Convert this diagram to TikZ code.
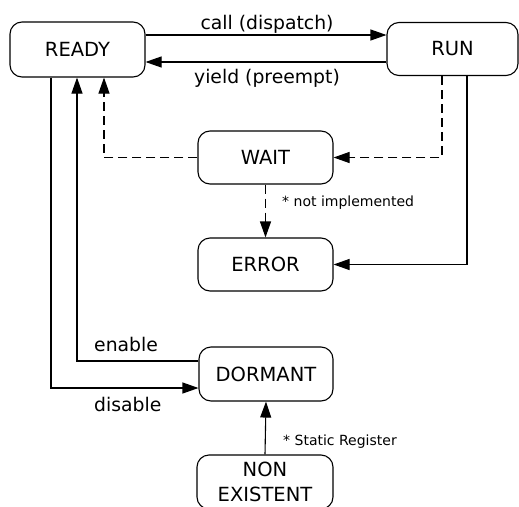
\documentclass[tikz,border=0pt]{standalone}
\usepackage{fontspec}
\setmainfont{DejaVu Sans}
\usetikzlibrary{arrows.meta,calc}

\tikzset{
  state/.style={draw, rounded corners=12pt, line width=1.1pt,
    font=\fontsize{19.5}{25}\selectfont, inner sep=0pt, align=center},
  link/.style={line width=1.1pt, -{Triangle[length=16pt,width=11pt]}},
  dashlink/.style={dash pattern=on 9pt off 5pt},
  biglabel/.style={font=\fontsize{18.8}{22}\selectfont, inner sep=0pt},
  notelabel/.style={font=\fontsize{14}{16}\selectfont, inner sep=0pt, anchor=base west},
}

\begin{document}
\begin{tikzpicture}[x=1pt, y=-1pt]
\useasboundingbox (0,0) rectangle (519,506);
\clip (0,0) rectangle (519,506);
\fill[white] (0,0) rectangle (519,506);

% states
\node[state, minimum width=135pt, minimum height=55pt] (ready) at (77.5,49.5) {READY};
\node[state, minimum width=131pt, minimum height=53pt] (run) at (452.5,49) {RUN};
\node[state, minimum width=135pt, minimum height=53pt] (wait) at (265.5,157.5) {WAIT};
\node[state, minimum width=135pt, minimum height=53pt] (error) at (265.5,264.5) {ERROR};
\node[state, minimum width=134pt, minimum height=54pt] (dormant) at (266,374) {DORMANT};
\node[state, minimum width=136pt, minimum height=54pt] (nonex) at (265,482) {NON\\EXISTENT};

% routing levels and columns
\coordinate (callY) at (0,35);
\coordinate (yieldY) at (0,62);
\coordinate (disX) at (51,0);
\coordinate (enX) at (77,0);
\coordinate (waitX) at (104,0);
\coordinate (runWaitX) at (442,0);
\coordinate (runErrX) at (467,0);
\coordinate (enY) at (0,361);
\coordinate (disY) at (0,388);

% READY <-> RUN
\draw[link] (ready.east |- callY) -- (run.west |- callY);
\draw[link] (run.west |- yieldY) -- (ready.east |- yieldY);
\node[biglabel, anchor=base] (calllabel) at (267,29) {call (dispatch)};
\node[biglabel, anchor=base] (yieldlabel) at (267,83) {yield (preempt)};

% RUN -> WAIT, WAIT -> READY, WAIT -> ERROR
\draw[link, dashlink] (runWaitX |- run.south) -- (runWaitX |- wait.east) -- (wait.east);
\draw[link, dashlink] (wait.west) -- (waitX |- wait.west) -- (waitX |- ready.south);
\draw[link, dashlink] (wait.south) -- (error.north);
\node[notelabel] (noteimpl) at (282,206) {* not implemented};

% RUN -> ERROR
\draw[link] (runErrX |- run.south) -- (runErrX |- error.east) -- (error.east);

% READY <-> DORMANT
\draw[link] (disX |- ready.south) -- (disX |- disY) -- (dormant.west |- disY);
\draw[link] (dormant.west |- enY) -- (enX |- enY) -- (enX |- ready.south);
\node[biglabel, anchor=base west] (enlabel) at (94,351.5) {enable};
\node[biglabel, anchor=base west] (dislabel) at (94,411.5) {disable};

% NON EXISTENT -> DORMANT
\draw[link] (nonex.north) -- (dormant.south);
\node[notelabel] (noteReg) at (283,445) {* Static Register};
\end{tikzpicture}
\end{document}
